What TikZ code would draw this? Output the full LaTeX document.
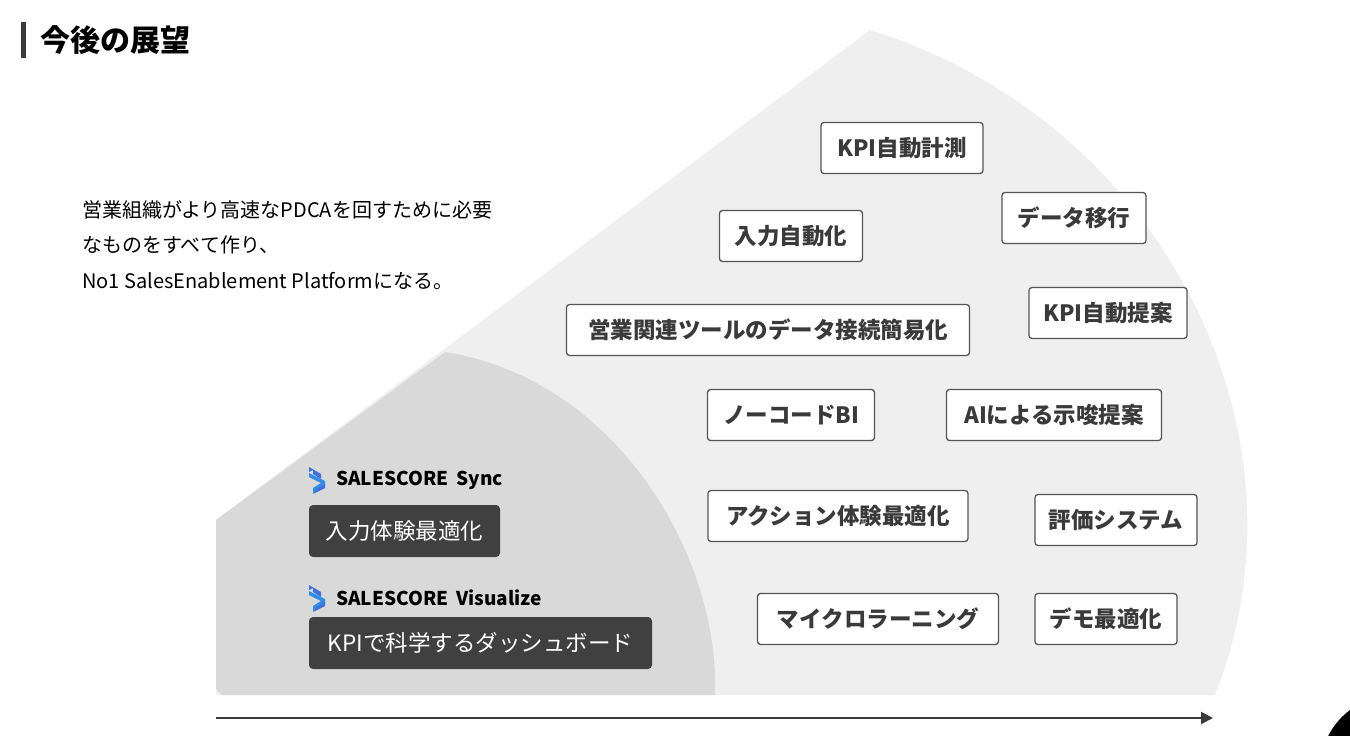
\documentclass[tikz,border=0pt]{standalone}
\usepackage{fontspec}
\setmainfont{Noto Sans CJK JP}
\usetikzlibrary{arrows.meta}
\definecolor{bgout}{HTML}{EFEFEF}
\definecolor{bgin}{HTML}{D9D9D9}
\definecolor{boxline}{HTML}{555555}
\definecolor{boxtext}{HTML}{3A3A3A}
\definecolor{darkbox}{HTML}{404040}
\definecolor{logoblue}{HTML}{3D6FE0}
\tikzset{
  plan/.style = {draw = boxline, line width = 1.3pt, fill = white, rounded corners = 3pt,
                 minimum height = 51pt, inner sep = 0pt, text = boxtext,
                 font = \fontsize{22.5}{26}\selectfont\bfseries},
  tool/.style = {fill = darkbox, rounded corners = 4pt, minimum height = 52pt,
                 inner sep = 0pt, text = white, font = \fontsize{22.5}{26}\selectfont},
  brand/.style = {anchor = west, inner sep = 0pt, font = \fontsize{19}{20}\selectfont\bfseries},
  logo/.pic = {
    \fill[logoblue] (0,0) -- (12,7) -- (12,12) -- (4,7) -- (4,3) -- (0,5) -- cycle;
    \fill[logoblue!80!cyan] (0,6) -- (4,8) -- (16,14) -- (16,19) -- (4,26) -- (4,21) -- (12,16) -- (0,10) -- cycle;
    \fill[logoblue] (8,22) -- (16,17) -- (16,21) -- (4,27) -- cycle;
  }
}
\begin{document}
\begin{tikzpicture}[x = 1pt, y = -1pt]
  \useasboundingbox (0,0) rectangle (1350,736);

  % background fans
  \fill[bgout] (216,520) -- (870,30) .. controls (1160,120) and (1320,430) .. (1215,695) -- (216,695) -- cycle;
  \fill[bgin] (216,520) -- (445,352) .. controls (620,380) and (720,560) .. (715,695)
    -- (222,695) to[out = 180, in = 90] (216,689) -- cycle;
  \fill (1395,770) circle (75);

  % title
  \fill[boxtext] (21,22) rectangle (26,58);
  \node[anchor = west, inner sep = 0pt, font = \fontsize{30}{32}\selectfont\bfseries] (title) at (40,40) {今後の展望};

  \node[anchor = north west, inner sep = 0pt, align = left, font = \fontsize{20}{35.5}\selectfont] (vision) at (82,200)
    {営業組織がより高速なPDCAを回すために必要\\なものをすべて作り、\\No1 SalesEnablement Platformになる。};

  % future plans
  \node[plan, minimum width = 162pt] (kpimeasure) at (902,148) {KPI自動計測};
  \node[plan, minimum width = 144pt] (migrate) at (1074,218) {データ移行};
  \node[plan, minimum width = 143pt] (autoinput) at (791,236) {入力自動化};
  \node[plan, minimum width = 158pt] (kpisuggest) at (1108,313) {KPI自動提案};
  \node[plan, minimum width = 403pt] (connect) at (768,330) {営業関連ツールのデータ接続簡易化};
  \node[plan, minimum width = 167pt] (nocode) at (791,415) {ノーコードBI};
  \node[plan, minimum width = 215pt] (aihint) at (1054,415) {AIによる示唆提案};
  \node[plan, minimum width = 260pt] (action) at (838,516) {アクション体験最適化};
  \node[plan, minimum width = 162pt] (evaluate) at (1116,520) {評価システム};
  \node[plan, minimum width = 241pt] (learning) at (878,619) {マイクロラーニング};
  \node[plan, minimum width = 142pt] (demo) at (1106,619) {デモ最適化};

  % current products
  \pic at (309,467) {logo};
  \node[brand] (sync) at (336,480) {SALESCORE\hspace{8pt}Sync};
  \node[tool, minimum width = 191pt] (inputux) at (404.5,531) {入力体験最適化};
  \pic at (309,585) {logo};
  \node[brand] (visualize) at (336,598) {SALESCORE\hspace{8pt}Visualize};
  \node[tool, minimum width = 343pt] (dashboard) at (480.5,643) {KPIで科学するダッシュボード};

  % time axis
  \coordinate (tstart) at (216,718);
  \coordinate (tend) at (1213,718);
  \draw[boxtext, line width = 2pt, -{Triangle[length = 12pt, width = 12pt]}] (tstart) -- (tend);
\end{tikzpicture}
\end{document}
